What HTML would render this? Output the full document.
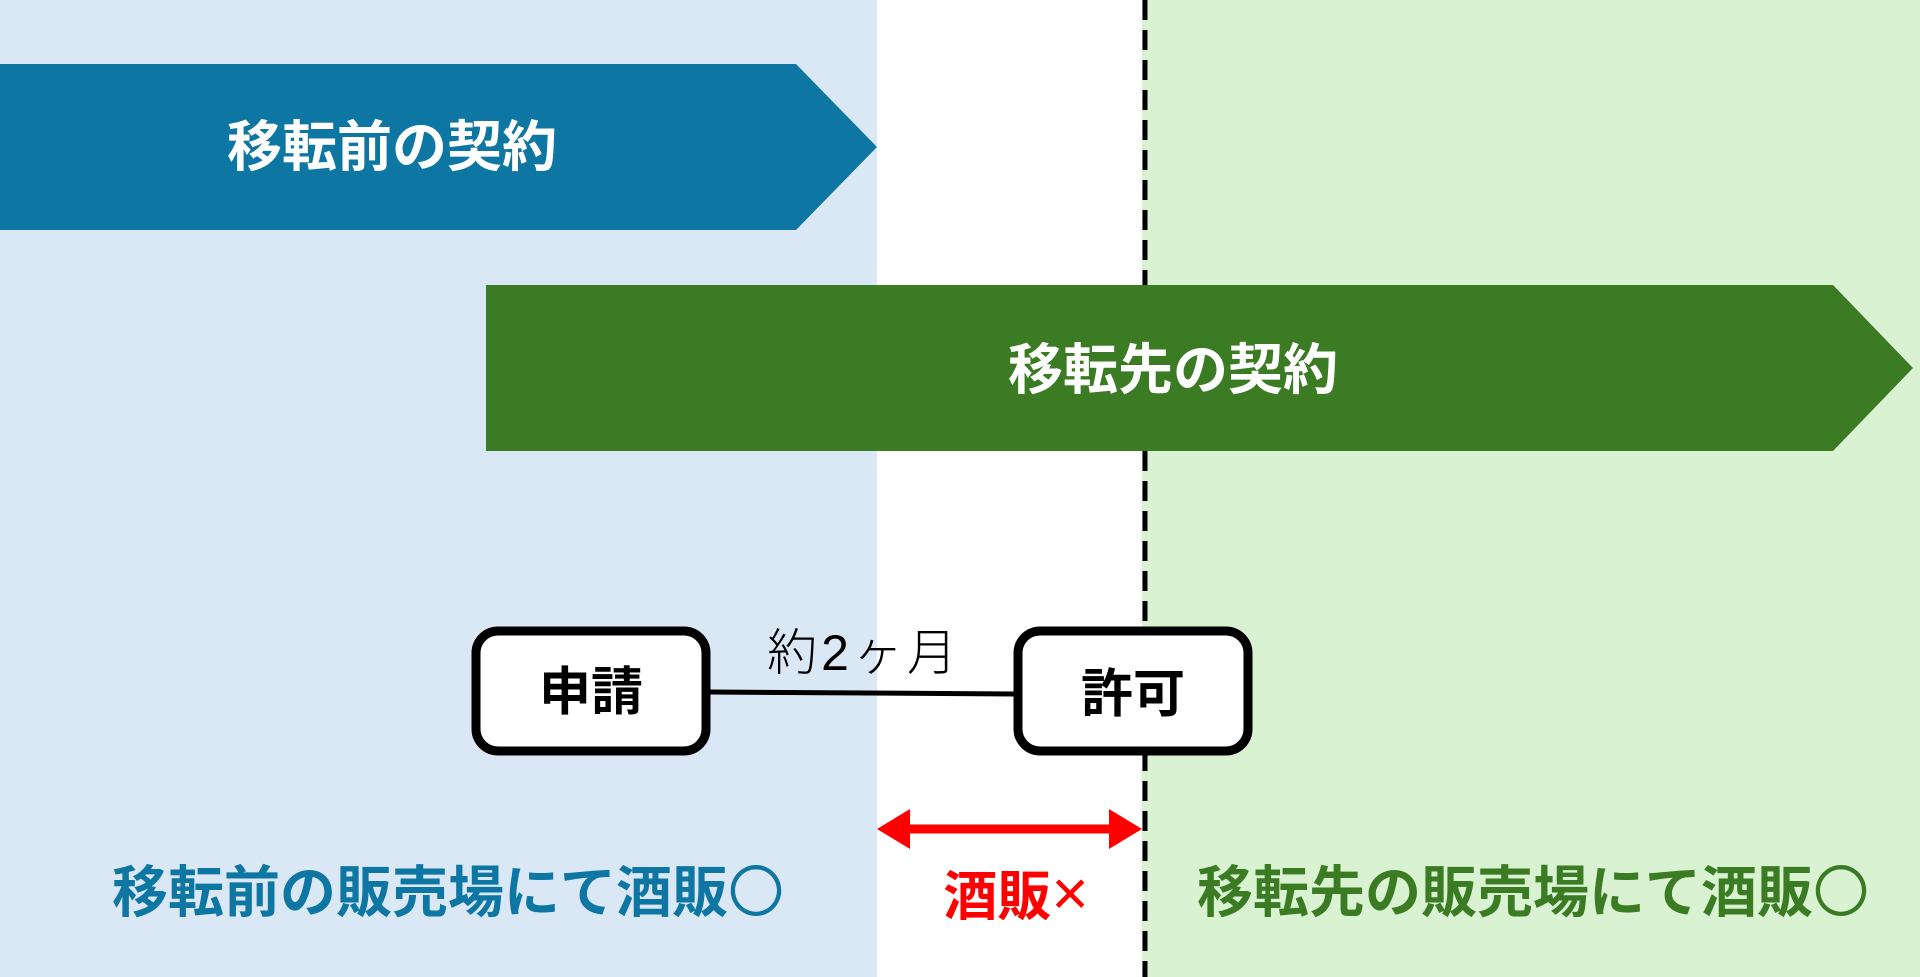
<!DOCTYPE html>
<html><head><meta charset="utf-8"><style>
body{margin:0;width:1920px;height:977px;overflow:hidden;background:#fff;font-family:"Liberation Sans","Noto Sans CJK JP",sans-serif;}
</style></head><body>
<svg width="1920" height="977" xmlns="http://www.w3.org/2000/svg" style="position:absolute;left:0;top:0" font-family="Liberation Sans, Noto Sans CJK JP, sans-serif">
<rect x="0" y="0" width="877" height="977" fill="#dae8f6"/>
<rect x="1142" y="0" width="778" height="977" fill="#d9f2d1"/>
<polygon points="0,64 796,64 877,147 796,230 0,230" fill="#0e76a3"/>
<polygon points="486,285 1833,285 1913,368 1833,451 486,451" fill="#3a7b23"/>
<line x1="1145" y1="0" x2="1145" y2="285" stroke="#000" stroke-width="5" stroke-dasharray="20,10"/>
<line x1="1145" y1="451" x2="1145" y2="977" stroke="#000" stroke-width="5" stroke-dasharray="20,10"/>
<text x="392" y="166" font-size="55" font-weight="bold" fill="#fff" text-anchor="middle">移転前の契約</text>
<text x="1173" y="389" font-size="55" font-weight="bold" fill="#fff" text-anchor="middle">移転先の契約</text>
<line x1="710" y1="692" x2="1014" y2="694" stroke="#000" stroke-width="5"/>
<rect x="476" y="631" width="230" height="120" rx="22" fill="#fff" stroke="#000" stroke-width="9"/>
<rect x="1018" y="631" width="230" height="120" rx="22" fill="#fff" stroke="#000" stroke-width="9"/>
<text x="591" y="710" font-size="52" font-weight="bold" text-anchor="middle">申請</text>
<text x="1133" y="712" font-size="52" font-weight="bold" text-anchor="middle">許可</text>
<text x="864" y="670" font-size="50" font-weight="300" letter-spacing="4" text-anchor="middle">約2ヶ月</text>
<line x1="900" y1="829" x2="1119" y2="829" stroke="#ff0000" stroke-width="9"/>
<polygon points="877,829 910,809 910,849" fill="#ff0000"/>
<polygon points="1142,829 1109,809 1109,849" fill="#ff0000"/>
<text x="448" y="912" font-size="56" font-weight="bold" fill="#0e76a3" text-anchor="middle">移転前の販売場にて酒販<tspan font-weight="normal">〇</tspan></text>
<text x="1016" y="915" font-size="54" font-weight="bold" fill="#ff0000" text-anchor="middle">酒販<tspan font-weight="normal" font-size="64">×</tspan></text>
<text x="1533" y="912" font-size="56" font-weight="bold" fill="#3a7b23" text-anchor="middle">移転先の販売場にて酒販<tspan font-weight="normal">〇</tspan></text>
</svg>
</body></html>
